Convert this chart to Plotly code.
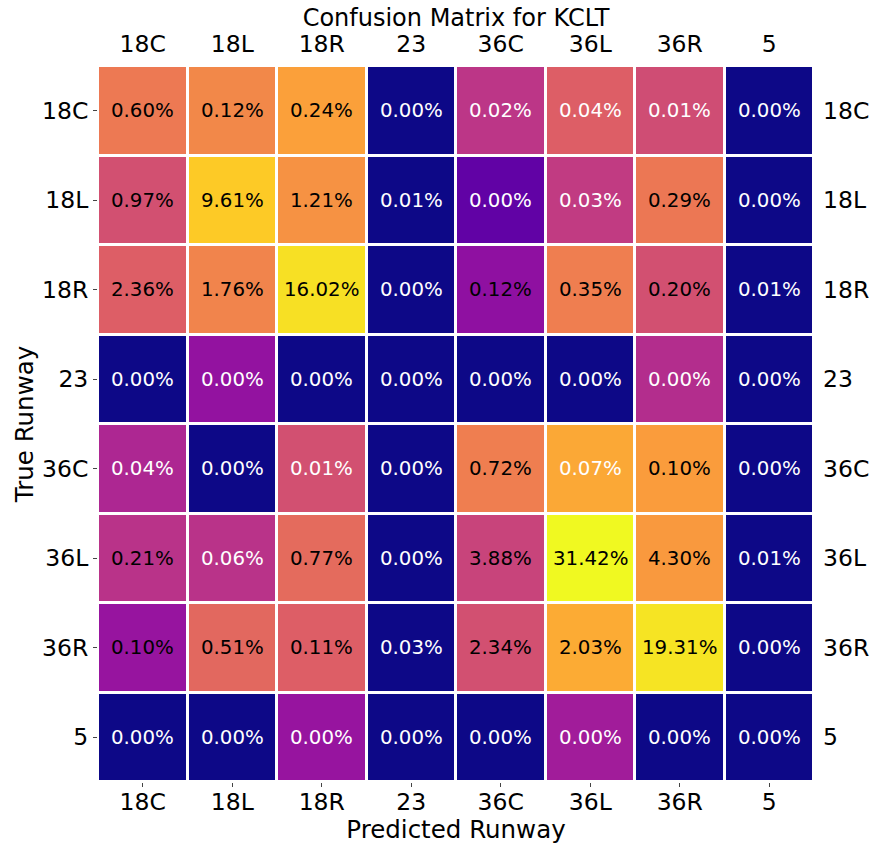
import plotly.graph_objects as go

labels = ["18C", "18L", "18R", "23", "36C", "36L", "36R", "5"]

# percentage shown in each cell (rows = true runway, columns = predicted runway)
pct = [
    [0.60, 0.12, 0.24, 0.00, 0.02, 0.04, 0.01, 0.00],
    [0.97, 9.61, 1.21, 0.01, 0.00, 0.03, 0.29, 0.00],
    [2.36, 1.76, 16.02, 0.00, 0.12, 0.35, 0.20, 0.01],
    [0.00, 0.00, 0.00, 0.00, 0.00, 0.00, 0.00, 0.00],
    [0.04, 0.00, 0.01, 0.00, 0.72, 0.07, 0.10, 0.00],
    [0.21, 0.06, 0.77, 0.00, 3.88, 31.42, 4.30, 0.01],
    [0.10, 0.51, 0.11, 0.03, 2.34, 2.03, 19.31, 0.00],
    [0.00, 0.00, 0.00, 0.00, 0.00, 0.00, 0.00, 0.00],
]

# colour level of each cell (0..1 along the plasma scale)
level = [
    [0.667, 0.71, 0.78, 0.00, 0.44, 0.58, 0.52, 0.00],
    [0.53, 0.89, 0.74, 0.00, 0.18, 0.46, 0.66, 0.00],
    [0.58, 0.70, 0.94, 0.00, 0.30, 0.68, 0.53, 0.00],
    [0.00, 0.31, 0.00, 0.00, 0.00, 0.00, 0.41, 0.00],
    [0.39, 0.00, 0.53, 0.00, 0.68, 0.80, 0.77, 0.00],
    [0.43, 0.43, 0.62, 0.00, 0.49, 1.00, 0.76, 0.00],
    [0.32, 0.61, 0.58, 0.00, 0.53, 0.81, 0.95, 0.00],
    [0.00, 0.00, 0.32, 0.00, 0.00, 0.35, 0.00, 0.00],
]

FONT = "DejaVu Sans"

fig = go.Figure()
fig.add_trace(go.Heatmap(
    z=level, x=labels, y=labels,
    colorscale="Plasma", zmin=0, zmax=1,
    xgap=3, ygap=3, showscale=False, hoverinfo="skip",
))
# invisible trace so that the top / right axes carry the same categories
fig.add_trace(go.Scatter(
    x=labels, y=labels, xaxis="x2", yaxis="y2", mode="markers",
    marker=dict(opacity=0), showlegend=False, hoverinfo="skip",
))

annotations = []
for i, row in enumerate(pct):
    for j, v in enumerate(row):
        annotations.append(dict(
            x=j, y=i, xref="x", yref="y",   # category index positions
            text=f"{v:.2f}%", showarrow=False,
            font=dict(family=FONT, size=19.8,
                      color="black" if v >= 0.1 else "white"),
        ))

axis_common = dict(
    type="category", categoryorder="array", categoryarray=labels,
    showgrid=False, zeroline=False, showline=False, automargin=False,
    tickfont=dict(family=FONT, size=23.5, color="black"),
)

fig.update_layout(
    width=873, height=844,
    margin=dict(l=98, r=59, t=66, b=62),
    paper_bgcolor="white", plot_bgcolor="white",
    font=dict(family=FONT, color="black"),
    showlegend=False,
    title=dict(text="Confusion Matrix for KCLT", x=0.5, xref="paper",
               y=1 - 18 / 844, yref="container", yanchor="middle",
               xanchor="center", font=dict(family=FONT, size=24)),
    xaxis=dict(**axis_common, range=[-0.5, 7.5], side="bottom",
               ticks="outside", ticklen=4, tickwidth=1, tickcolor="#444",
               ticklabelstandoff=-5,
               title=dict(text="Predicted Runway", standoff=11,
                          font=dict(family=FONT, size=24.5))),
    yaxis=dict(**axis_common, range=[7.5, -0.5], side="left",
               ticks="outside", ticklen=4, tickwidth=1, tickcolor="#444",
               title=dict(text="True Runway", standoff=1,
                          font=dict(family=FONT, size=24.5))),
    xaxis2=dict(**axis_common, range=[-0.5, 7.5], side="top",
                overlaying="x", ticks="", ticklabelstandoff=8),
    yaxis2=dict(**axis_common, range=[7.5, -0.5], side="right",
                overlaying="y", ticks="", ticklabelstandoff=8),
    annotations=annotations,
)

fig.write_html("out.html",
               config={"displayModeBar": False},
               post_script="document.body.style.margin='0';")
